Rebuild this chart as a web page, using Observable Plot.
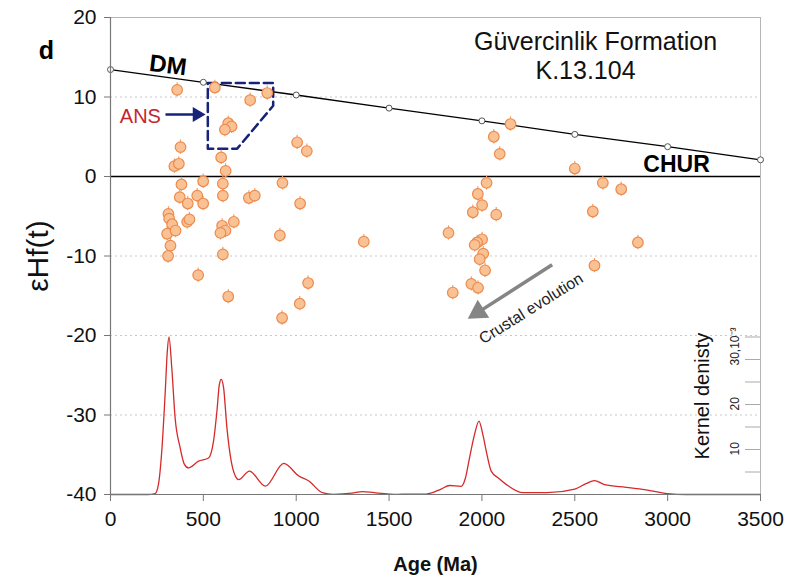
<!DOCTYPE html>
<html><head><meta charset="utf-8">
<script src="https://cdn.jsdelivr.net/npm/d3@7"></script>
<script src="https://cdn.jsdelivr.net/npm/@observablehq/plot@0.6"></script>
<style>body{margin:0;background:#fff} #chart svg{display:block}</style>
</head><body><div id="chart"></div>
<script>
// Zircon Lu-Hf data: age (Ma) and εHf(t)
const zirconAge = [359,562,752,844,634,652,616,377,1005,1057,344,368,596,620,
  382,499,605,605,926,373,416,467,499,745,777,1021,312,316,332,305,350,323,310,413,425,601,619,592,664,912,605,472,634,1064,1019,924,1364,
  2154,2064,2096,2025,1978,2001,1951,2077,1820,2001,1974,1961,2007,1988,2017,1943,1979,1843,
  2500,2651,2750,2597,2840,2606];
const zirconEHf = [10.9,11.2,9.6,10.5,6.7,6.3,5.9,3.7,4.3,3.2,1.3,1.6,2.4,0.7,
  -1.0,-0.6,-0.9,-2.4,-0.8,-2.6,-3.4,-2.4,-3.4,-2.7,-2.4,-3.4,-4.7,-5.3,-6.0,-7.2,-6.8,-8.7,-10.0,-5.7,-5.4,-6.2,-6.8,-7.1,-5.7,-7.4,-9.8,-12.4,-15.1,-13.4,-16.0,-17.8,-8.2,
  6.6,5.0,2.85,-0.8,-2.2,-3.6,-4.5,-4.8,-7.1,-7.9,-8.3,-8.6,-9.7,-10.4,-11.8,-13.5,-14.0,-14.6,
  1.0,-0.8,-1.6,-4.4,-8.3,-11.2];
const epsErr = 0.9;

// Depleted mantle reference curve
const dmAge = [0,500,1000,1500,2000,2500,3000,3500];
const dmEHf = [13.45,11.85,10.25,8.6,7.0,5.3,3.75,2.1];

// Kernel density estimate (x10^-3)
const kdeAge = [0,200,240,258,276,294,306,315,330,348,375,398,420,474,528,555,573,586,596,609,627,650,672,690,748,834,933,1014,1068,1141,1200,1300,1356,1420,1550,1700,1780,1825,1888,1910,1933,1960,1984,2005,2027,2050,2090,2132,2222,2350,2500,2560,2606,2660,2776,2876,3000,3100,3500];
const kdeDensity = [0,0,0.2,2.2,9.6,22.2,31.9,35.0,28.1,17.0,10.4,6.7,5.9,7.4,8.1,11.9,18.5,24.4,25.6,23.7,14.8,7.4,4.1,3.3,5.2,1.85,6.9,4.1,3.0,0.4,0.05,0.3,0.66,0.4,0.05,0.1,1.2,2.0,1.8,3.5,8.1,13.3,16.3,13.3,8.9,5.2,3.6,2.2,0.4,0.4,1.2,2.4,3.1,2.2,1.6,1.1,0.2,0,0];

// Axis ticks
const xTicks = [0,500,1000,1500,2000,2500,3000,3500];
const yTicks = [20,10,0,-10,-20,-30,-40];
const gridTicks = [10,-10,-20,-30];
const kdTicks = [5,10,15,20,25,30,35];
const kdLabelValues = [10,20,30];
const kdLabelText = ["10","20","30,10\u207B\u00B3"];

// ANS field outline (age, εHf)
const ansBoxAge = [524,876,876,682,524,524];
const ansBoxEHf = [11.75,11.75,8.9,3.5,3.5,11.75];

const zircons = zirconAge.map((a,i)=>({age:a, ehf:zirconEHf[i]}));
const dm = dmAge.map((a,i)=>({age:a, ehf:dmEHf[i]}));
const kde = kdeAge.map((a,i)=>({age:a, d:kdeDensity[i]}));
const ansBox = ansBoxAge.map((a,i)=>({age:a, ehf:ansBoxEHf[i]}));
const kdToEps = d => -40 + d*0.566;
const kdLabels = kdLabelValues.map((v,i)=>({v, t:kdLabelText[i]}));

const font = "'Liberation Sans', Arial, Helvetica, sans-serif";
const navy = "#17227a";
const C = {textAnchor: "middle", lineAnchor: "middle"};

const chart = Plot.plot({
  width: 787, height: 581,
  marginLeft: 110, marginRight: 27, marginTop: 17, marginBottom: 87,
  style: {fontFamily: font, fontSize: "21px", color: "#111", background: "#fff"},
  x: {domain: [0, 3500]},
  y: {domain: [-40, 20]},
  marks: [
    Plot.frame({stroke: "#b5b5b5"}),
    Plot.ruleY(gridTicks, {stroke: "#c8c8c8", strokeDasharray: "2,3"}),
    Plot.line(kde, {x: "age", y: d => kdToEps(d.d), curve: "monotone-x", stroke: "#d42a2a", strokeWidth: 1.3}),
    Plot.tickY(kdTicks, {y: d => kdToEps(d), insetLeft: 635, stroke: "#aaa"}),
    Plot.text(kdLabels, {y: d => kdToEps(d.v), text: "t", frameAnchor: "right", dx: -25, dy: 6, rotate: -90, textAnchor: "start", lineAnchor: "middle", fontSize: 12, fill: "#222"}),
    Plot.text(["Kernel denisty"], {frameAnchor: "right", dx: -58, dy: 140, rotate: -90, ...C, fontSize: 20, fill: "#111"}),
    Plot.ruleY([0], {stroke: "#000", strokeWidth: 1.5}),
    Plot.line(dm, {x: "age", y: "ehf", stroke: "#000", strokeWidth: 1.3}),
    Plot.dot(dm, {x: "age", y: "ehf", r: 3, fill: "white", stroke: "#555", strokeWidth: 1}),
    Plot.line(ansBox, {x: "age", y: "ehf", stroke: navy, strokeWidth: 2.5, strokeDasharray: "9,5"}),
    // ANS arrow
    Plot.link([{x1: 296, y1: 7.8, x2: 470, y2: 7.8}], {x1: "x1", y1: "y1", x2: "x2", y2: "y2", stroke: navy, strokeWidth: 2.5}),
    Plot.dot([{x: 466, y: 7.8}], {x: "x", y: "y", symbol: "triangle", r: 5.5, rotate: 90, fill: navy, stroke: "none"}),
    // Crustal evolution arrow
    Plot.link([{x1: 2378, y1: -11.1, x2: 1985, y2: -17.0}], {x1: "x1", y1: "y1", x2: "x2", y2: "y2", stroke: "#858585", strokeWidth: 3.5}),
    Plot.dot([{x: 1980, y: -17.06}], {x: "x", y: "y", symbol: "triangle", r: 8, rotate: 237.4, fill: "#858585", stroke: "none"}),
    Plot.text([{x: 2265, y: -16.6}], {x: "x", y: "y", text: () => "Crustal evolution", rotate: -32, fontSize: 16, fill: "#222", ...C}),
    // zircon points
    Plot.ruleX(zircons, {x: "age", y1: d => d.ehf - epsErr, y2: d => d.ehf + epsErr, stroke: "#f0a070", strokeWidth: 1.2}),
    Plot.dot(zircons, {x: "age", y: "ehf", r: 5.3, fill: "#f9c295", stroke: "#ee8a4c", strokeWidth: 1.2}),
    // axes
    Plot.axisX({ticks: xTicks, tickSize: 7, tickPadding: 10, tickFormat: d => String(d), label: null, fontSize: 21, stroke: "#777", fill: "#111"}),
    Plot.axisY({ticks: yTicks, tickSize: 6, tickPadding: 8, tickFormat: d => String(d), label: null, fontSize: 21, stroke: "#777", fill: "#111"}),
    Plot.ruleX([0], {stroke: "#777", strokeWidth: 1.2}),
    Plot.ruleY([-40], {stroke: "#777", strokeWidth: 1.2}),
    // labels
    Plot.text([{x: 310, y: 13.96}], {x: "x", y: "y", text: () => "DM", rotate: 7, fontSize: 24, fontWeight: "bold", fill: "#000", ...C}),
    Plot.text([{x: 3048, y: 1.45}], {x: "x", y: "y", text: () => "CHUR", fontSize: 23, fontWeight: "bold", fill: "#000", ...C}),
    Plot.text([{x: 161, y: 7.55}], {x: "x", y: "y", text: () => "ANS", fontSize: 20, fill: "#c4262e", ...C}),
    Plot.text(["d"], {frameAnchor: "top-left", dx: -64, dy: 33, fontSize: 25, fontWeight: "bold", fill: "#000", ...C}),
    Plot.text(["Güvercinlik Formation"], {frameAnchor: "top", dx: 160, dy: 24, fontSize: 25, fill: "#111", ...C}),
    Plot.text(["K.13.104"], {frameAnchor: "top", dx: 150, dy: 53, fontSize: 25, fill: "#111", ...C}),
    Plot.text(["εHf(t)"], {frameAnchor: "left", dx: -72, rotate: -90, fontSize: 30, fill: "#111", ...C}),
    Plot.text(["Age (Ma)"], {frameAnchor: "bottom", dy: 70, fontSize: 20, fontWeight: "bold", fill: "#111", ...C})
  ]
});
document.getElementById("chart").appendChild(chart);
</script>
</body></html>
